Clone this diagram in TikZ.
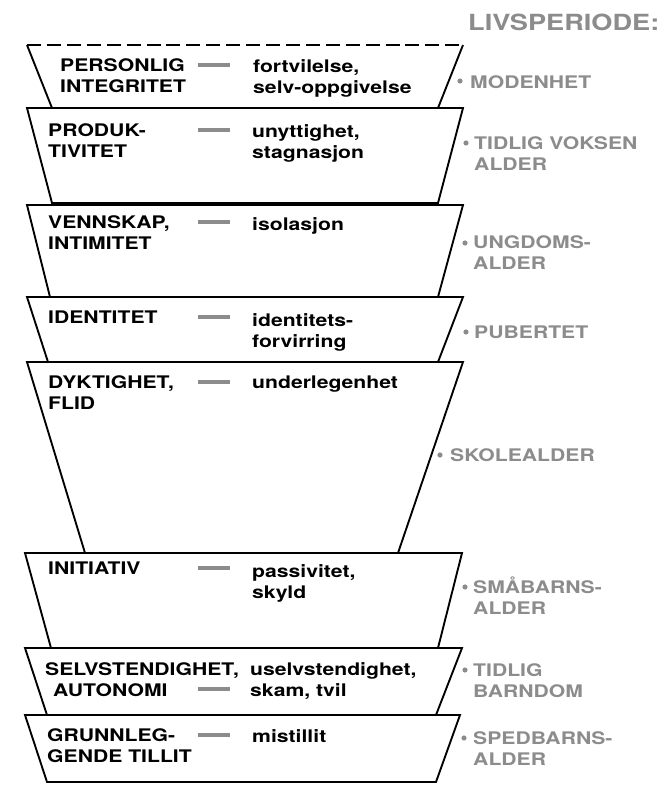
\documentclass[tikz,border=0pt]{standalone}
\usepackage{fontspec}
\setmainfont{TeX Gyre Heros}[FakeStretch=1.22]

\definecolor{periodgray}{gray}{0.55}

\tikzset{
  stage/.style={draw, line width=1.6pt, fill=white, line join=miter},
  virtue/.style={anchor=base west, inner sep=0pt, align=left,
    font=\fontsize{14.8}{17.9}\selectfont\bfseries},
  crisis/.style={virtue},
  period/.style={virtue, text=periodgray},
  minus/.style={line width=3.5pt, periodgray},
  perioddot/.style={fill=periodgray},
}

\begin{document}
\begin{tikzpicture}[x=0.03cm, y=-0.03cm]
        \useasboundingbox (0,0) rectangle (669,785);

        % Stages
        \fill[white] (27,45) -- (463,45) -- (438,108) -- (52,108) -- cycle;
        \draw[stage] (463,45) -- (438,108) -- (52,108) -- (27,45);
        \draw[stage, dash pattern=on 12pt off 5pt] (27,45) -- (463,45);
        \draw[stage] (27,108) -- (463,108) -- (438,203) -- (52,203) -- cycle;
        \draw[stage] (27,205) -- (463,205) -- (438,297) -- (50,297) -- cycle;
        \draw[stage] (27,297) -- (463,297) -- (438,362) -- (48,362) -- cycle;
        \draw[stage] (27,362) -- (463,362) -- (398,553) -- (85,553) -- cycle;
        \draw[stage] (25,553) -- (462,553) -- (438,648) -- (51,648) -- cycle;
        \draw[stage] (25,648) -- (462,648) -- (436,715) -- (47,715) -- cycle;
        \draw[stage] (25,715) -- (460,715) -- (436,782) -- (47,782) -- cycle;

        % Virtues (base = last line)
        \node[virtue] (v1) at (60,92) {PERSONLIG\\INTEGRITET};
        \node[virtue] (v2) at (48,157) {PRODUK-\\TIVITET};
        \node[virtue] (v3) at (48,249) {VENNSKAP,\\INTIMITET};
        \node[virtue] (v4) at (48,323) {IDENTITET};
        \node[virtue] (v5) at (48,409) {DYKTIGHET,\\FLID};
        \node[virtue] (v6) at (48,574) {INITIATIV};
        \node[virtue] (v7) at (45,696) {SELVSTENDIGHET,\\\hspace*{0.24cm}AUTONOMI};
        \node[virtue] (v8) at (47,762) {GRUNNLEG-\\GENDE TILLIT};

        % Crises
        \node[crisis] (c1) at (253,93) {fortvilelse,\\selv-oppgivelse};
        \node[crisis] (c2) at (252,158) {unyttighet,\\stagnasjon};
        \node[crisis] (c3) at (252,230) {isolasjon};
        \node[crisis] (c4) at (252,347) {identitets-\\forvirring};
        \node[crisis] (c5) at (252,388) {underlegenhet};
        \node[crisis] (c6) at (252,598) {passivitet,\\skyld};
        \node[crisis] (c7) at (250,696) {uselvstendighet,\\skam, tvil};
        \node[crisis] (c8) at (252,742) {mistillit};

        % Minus signs
        \draw[minus] (198,65) -- (230,65);
        \draw[minus] (198,130) -- (230,130);
        \draw[minus] (198,222) -- (230,222);
        \draw[minus] (198,317) -- (230,317);
        \draw[minus] (198,382) -- (230,382);
        \draw[minus] (198,568) -- (230,568);
        \draw[minus] (198,689) -- (230,689);
        \draw[minus] (198,735) -- (230,735);

        % Life periods
        \node[period, font=\fontsize{19}{23}\selectfont\bfseries] (head) at (468,30) {LIVSPERIODE:};
        \fill[perioddot] (460,81) circle (2.2pt);
        \node[period] (p1) at (470,88) {MODENHET};
        \fill[perioddot] (466,143) circle (2.2pt);
        \node[period] (p2) at (474,170) {TIDLIG VOKSEN\\ALDER};
        \fill[perioddot] (465,243) circle (2.2pt);
        \node[period] (p3) at (473,269) {UNGDOMS-\\ALDER};
        \fill[perioddot] (466,332) circle (2.2pt);
        \node[period] (p4) at (474,338) {PUBERTET};
        \fill[perioddot] (440,455) circle (2.2pt);
        \node[period] (p5) at (450,461) {SKOLEALDER};
        \fill[perioddot] (465,587) circle (2.2pt);
        \node[period] (p6) at (473,614) {SMÅBARNS-\\ALDER};
        \fill[perioddot] (465,670) circle (2.2pt);
        \node[period] (p7) at (473,697) {TIDLIG\\BARNDOM};
        \fill[perioddot] (464,738) circle (2.2pt);
        \node[period] (p8) at (473,765) {SPEDBARNS-\\ALDER};
\end{tikzpicture}
\end{document}
